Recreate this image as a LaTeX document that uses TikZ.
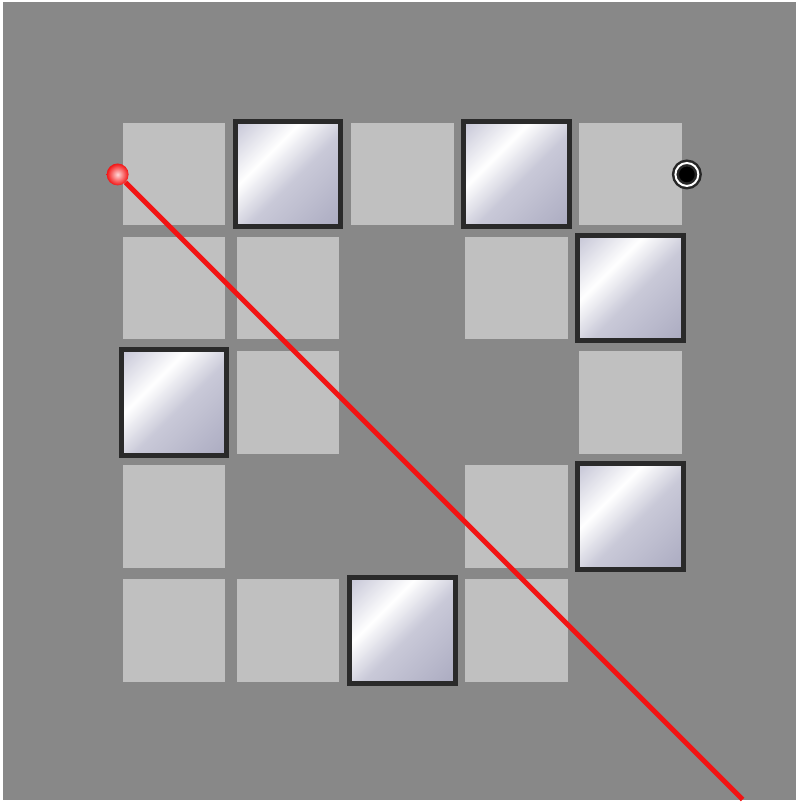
\documentclass[tikz,border=0pt]{standalone}
\usepackage{tikz}
\usepackage{xcolor}
\usetikzlibrary{positioning}
\definecolor{boardgray}{HTML}{888888}
\definecolor{tilegray}{HTML}{C0C0C0}
\definecolor{mirroredge}{HTML}{2A2A2A}
\definecolor{mirrorlight}{HTML}{C8C8D8}
\definecolor{mirrormid}{HTML}{C9C9D8}
\definecolor{mirrordark}{HTML}{AAAAC0}
\definecolor{laserred}{HTML}{F21414}
\pgfdeclarehorizontalshading{mirrorshade}{100bp}{color(0bp)=(mirrorlight); color(16bp)=(mirrorlight); color(37bp)=(white); color(54bp)=(mirrormid); color(86bp)=(mirrordark); color(100bp)=(mirrordark)}

\begin{document}
\begin{tikzpicture}[
        x=1pt, y=-1pt,
        tile/.style={
          fill=tilegray,
          minimum size=103pt,
          inner sep=0pt
        },
        mirror/.style={
          draw=mirroredge,
          line width=5pt,
          shading=mirrorshade,
          shading angle=-45,
          minimum size=106pt,
          inner sep=0pt
        },
        emitter/.style={
          circle,
          minimum size=22pt,
          inner sep=0pt,
          shading=radial,
          inner color=red!15!white,
          outer color=laserred
        },
        goal/.style={
          circle,
          minimum size=23pt,
          inner sep=0pt,
          fill=black,
          draw=black!85,
          line width=2.5pt,
          double=white,
          double distance=2pt
        },
        beam/.style={
          line width=5pt,
          laserred
        }
      ]

      % board
      \fill[white] (0,0) rectangle (798,802);
      \fill[boardgray] (3,2) rectangle (798,802);

      % empty tiles
      \foreach \r/\c in {0/0,0/2,0/4,1/0,1/1,1/3,2/1,2/4,3/0,3/3,4/0,4/1,4/3}
        \node[tile] (t\r\c) at ({174.5+114.5*\c},{174.5+114.5*\r}) {};

      % mirrors
      \foreach \r/\c in {0/1,0/3,1/4,2/0,3/4,4/2}
        \node[mirror] (m\r\c) at ({174.5+114.5*\c},{174.5+114.5*\r}) {};

      \node[goal] (target) at (689,175) {};
      \node[emitter] (source) at (118,175) {};
      \coordinate (exit) at (745,802);

      \draw[beam] (source) -- (exit);

      \end{tikzpicture}
\end{document}
